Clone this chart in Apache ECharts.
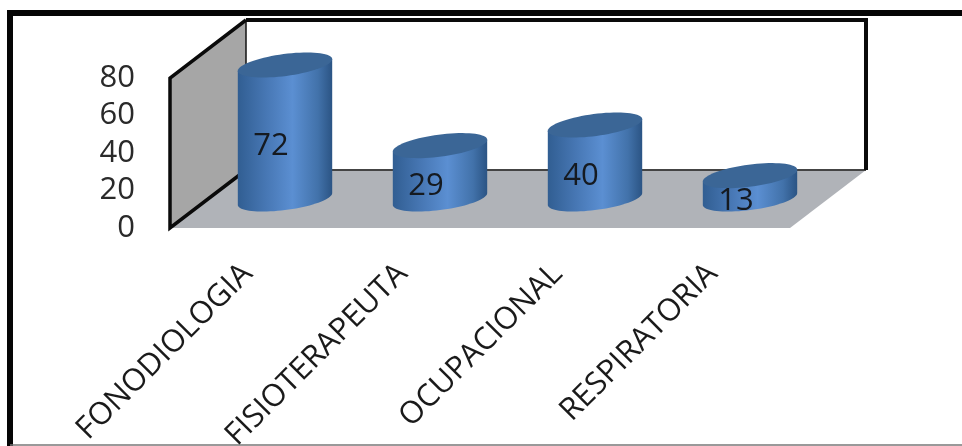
<!DOCTYPE html>
<html>
<head>
<meta charset="utf-8">
<style>
html,body{margin:0;padding:0;background:#fff;overflow:hidden}
#c{width:962px;height:446px;filter:blur(0.6px)}
</style>
<script src="https://cdn.jsdelivr.net/npm/echarts@6/dist/echarts.min.js"></script>
</head>
<body>
<div id="c"></div>
<script>
const categories = ['FONODIOLOGIA', 'FISIOTERAPEUTA', 'OCUPACIONAL', 'RESPIRATORIA'];
const values = [72, 29, 40, 13];
const axisMin = 0, axisMax = 80, axisStep = 20;
const depthX = 76, depthY = 58;
const FONT = '"Open Sans", sans-serif';

const chart = echarts.init(document.getElementById('c'), null, {renderer: 'canvas'});

function renderWalls(params, api) {
  const g = params.coordSys;
  const x0 = g.x, x1 = g.x + g.width, yT = g.y, yB = g.y + g.height;
  const bx0 = x0 + depthX, bx1 = x1 + depthX, byT = yT - depthY, byB = yB - depthY;
  const line = (pts, w, c) => ({type: 'polyline', shape: {points: pts},
    style: {fill: null, stroke: c, lineWidth: w, lineJoin: 'miter'}});
  return {type: 'group', children: [
    {type: 'polygon', shape: {points: [[bx0, byT], [bx1, byT], [bx1, byB], [bx0, byB]]}, style: {fill: '#ffffff'}},
    {type: 'polygon', shape: {points: [[x0, yB], [bx0, byB], [bx1, byB], [x1, yB]]}, style: {fill: '#b0b3b8'}},
    {type: 'polygon', shape: {points: [[x0, yT], [bx0, byT], [bx0, byB], [x0, yB]]}, style: {fill: '#a6a6a6'}},
    line([[bx0, byB], [bx1, byB]], 2, '#444'),
    line([[bx0, byT], [bx0, byB]], 1.5, '#111'),
    line([[bx0, byT], [bx1, byT], [bx1, byB]], 4, '#0a0a0a'),
    line([[bx0, byB], [x0, yB], [x0, yT], [bx0, byT]], 3.5, '#0a0a0a')
  ]};
}

function ellipsePts(cx, cy, rx, ry, a, t0, t1, n) {
  const pts = [];
  for (let i = 0; i <= n; i++) {
    const t = t0 + (t1 - t0) * i / n;
    const u = rx * Math.cos(t), v = ry * Math.sin(t);
    pts.push([cx + u * Math.cos(a) - v * Math.sin(a), cy + u * Math.sin(a) + v * Math.cos(a)]);
  }
  return pts;
}

function renderCylinder(params, api) {
  const val = api.value(1);
  const base = api.coord([api.value(0), 0]);
  const top = api.coord([api.value(0), val]);
  const band = api.size([1, 0])[0];
  const cx = base[0] + depthX / 2 - 0.5;
  const cyB = base[1] - depthY / 2;
  const cyT = top[1] - depthY / 2 + 1;
  const rx = band * 0.307, ry = 11, a = -7.5 * Math.PI / 180;
  const t0 = Math.atan2(-ry * Math.sin(a), rx * Math.cos(a));
  const lower = ellipsePts(cx, cyB, rx, ry, a, t0, t0 + Math.PI, 40);
  const right = lower[0], left = lower[lower.length - 1];
  const dy = cyT - cyB;
  const body = lower.concat([[left[0], left[1] + dy], [right[0], right[1] + dy]]);
  const grad = new echarts.graphic.LinearGradient(0, 0, 1, 0, [
    {offset: 0, color: '#315e92'},
    {offset: 0.3, color: '#4777b4'},
    {offset: 0.58, color: '#5b8fd2'},
    {offset: 0.85, color: '#4272aa'},
    {offset: 1, color: '#2b5484'}
  ]);
  return {type: 'group', children: [
    {type: 'polygon', shape: {points: body}, style: {fill: grad}},
    {type: 'polygon', shape: {points: ellipsePts(cx, cyT, rx, ry, a, 0, Math.PI * 2, 72)}, style: {fill: '#3b6696'}},
    {type: 'text', style: {text: String(val), x: cx - 14, y: (cyB + cyT) / 2 + 14,
      align: 'center', verticalAlign: 'middle', font: '31px ' + FONT, fill: '#151a20'}}
  ]};
}

chart.setOption({
  animation: false,
  backgroundColor: '#fff',
  grid: {left: 170, right: 172, top: 78, bottom: 218, outerBoundsMode: 'none'},
  xAxis: {
    type: 'category', data: categories,
    axisLine: {show: false}, axisTick: {show: false}, splitLine: {show: false},
    axisLabel: {rotate: 45, interval: 0, margin: 41, fontFamily: FONT, fontSize: 31, color: '#1a1a1a'}
  },
  yAxis: {
    type: 'value', min: axisMin, max: axisMax, interval: axisStep,
    axisLine: {show: false}, axisTick: {show: false}, splitLine: {show: false},
    axisLabel: {margin: 35, fontFamily: FONT, fontSize: 31, color: '#2a2a2a', padding: [10, 0, 0, 0]}
  },
  graphic: [
    {type: 'line', shape: {x1: 10, y1: 10, x2: 10, y2: 446}, style: {stroke: '#050505', lineWidth: 6}},
    {type: 'line', shape: {x1: 7, y1: 13, x2: 962, y2: 13}, style: {stroke: '#050505', lineWidth: 6}},
    {type: 'line', shape: {x1: 10, y1: 445, x2: 962, y2: 445}, style: {stroke: '#777', lineWidth: 1.5}}
  ],
  series: [
    {type: 'custom', name: 'walls', coordinateSystem: 'cartesian2d', clip: false, silent: true, z: 1,
     renderItem: renderWalls, data: [[0, 0]]},
    {type: 'custom', name: 'cylinders', coordinateSystem: 'cartesian2d', clip: false, silent: true, z: 2,
     renderItem: renderCylinder, encode: {x: 0, y: 1},
     data: values.map((v, i) => [i, v])}
  ]
});
</script>
</body>
</html>
